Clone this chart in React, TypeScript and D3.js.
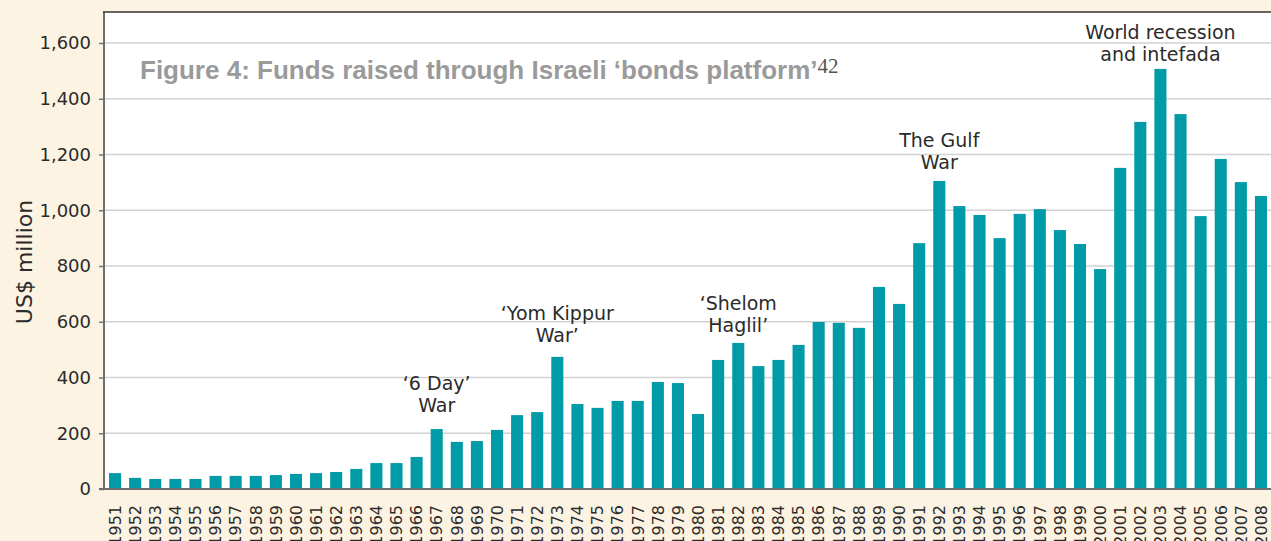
import { useEffect, useRef } from "react";
import * as d3 from "d3";

const years = [
  "1951", "1952", "1953", "1954", "1955", "1956", "1957", "1958", "1959", "1960",
  "1961", "1962", "1963", "1964", "1965", "1966", "1967", "1968", "1969", "1970",
  "1971", "1972", "1973", "1974", "1975", "1976", "1977", "1978", "1979", "1980",
  "1981", "1982", "1983", "1984", "1985", "1986", "1987", "1988", "1989", "1990",
  "1991", "1992", "1993", "1994", "1995", "1996", "1997", "1998", "1999", "2000",
  "2001", "2002", "2003", "2004", "2005", "2006", "2007", "2008",
];

// US$ million
const funds = [
  57, 40, 36, 36, 36, 47, 47, 47, 50, 54,
  57, 61, 72, 93, 93, 115, 215, 169, 172, 212,
  265, 276, 474, 305, 291, 316, 316, 384, 380, 269,
  463, 524, 441, 463, 517, 599, 596, 578, 725, 664,
  882, 1105, 1015, 983, 900, 987, 1004, 929, 879, 789,
  1152, 1317, 1507, 1345, 979, 1184, 1101, 1051,
];

const yTicks = [0, 200, 400, 600, 800, 1000, 1200, 1400, 1600];

// event notes: year they sit over, data level of the last line's baseline
const notes = [
  { year: "1967", level: 276, lines: ["‘6 Day’", "War"] },
  { year: "1973", level: 527, lines: ["‘Yom Kippur", "War’"] },
  { year: "1982", level: 565, lines: ["‘Shelom", "Haglil’"] },
  { year: "1992", level: 1148, lines: ["The Gulf", "War"] },
  { year: "2003", level: 1537, lines: ["World recession", "and intefada"] },
];

const TEAL = "#009ba7";
const SANS = "'DejaVu Sans', sans-serif";

export default function App() {
  const ref = useRef<SVGSVGElement | null>(null);

  useEffect(() => {
    const width = 1271;
    const height = 541;
    const left = 104;
    const top = 12;
    const bottom = 489;
    const svg = d3.select(ref.current);
    svg.selectAll("*").remove();

    const x = d3.scaleBand<string>().domain(years).range([105, 1271]).paddingInner(0.4).paddingOuter(0.2);
    const y = d3.scaleLinear().domain([0, 1600]).range([bottom, 43]);

    svg.append("rect").attr("width", width).attr("height", height).attr("fill", "#fcf3e3");
    svg
      .append("rect")
      .attr("x", left)
      .attr("y", top)
      .attr("width", width - left)
      .attr("height", bottom - top)
      .attr("fill", "#fff");

    // gridlines
    svg
      .selectAll("line.grid")
      .data(yTicks.filter((t) => t > 0))
      .join("line")
      .attr("class", "grid")
      .attr("x1", left)
      .attr("x2", width)
      .attr("y1", (t) => y(t))
      .attr("y2", (t) => y(t))
      .attr("stroke", "#d2d2d2")
      .attr("stroke-width", 1.5);

    // title
    const title = svg
      .append("text")
      .attr("x", 140)
      .attr("y", 79)
      .attr("font-family", "'Liberation Sans', Arial, sans-serif")
      .attr("font-weight", "bold")
      .attr("font-size", 26)
      .attr("fill", "#9a9a9a");
    title.append("tspan").text("Figure 4: Funds raised through Israeli ‘bonds platform’");
    title
      .append("tspan")
      .attr("font-family", "'Liberation Serif', 'Times New Roman', serif")
      .attr("font-weight", "normal")
      .attr("font-size", 21)
      .attr("fill", "#555")
      .attr("dy", -6)
      .text("42");

    // bars
    svg
      .selectAll("rect.bar")
      .data(funds)
      .join("rect")
      .attr("class", "bar")
      .attr("x", (_, i) => x(years[i]) ?? 0)
      .attr("y", (v) => y(v))
      .attr("width", x.bandwidth())
      .attr("height", (v) => bottom - y(v))
      .attr("fill", TEAL);

    // y axis
    const yAxis = svg
      .append("g")
      .attr("transform", `translate(${left},0)`)
      .call(
        d3
          .axisLeft(y)
          .tickValues(yTicks)
          .tickSize(5)
          .tickPadding(8)
          .tickFormat((d) => d3.format(",")(d as number))
      );
    yAxis.select(".domain").remove();
    yAxis.selectAll(".tick line").attr("stroke", "#777").attr("stroke-width", 1.5);
    yAxis
      .selectAll(".tick text")
      .attr("font-family", SANS)
      .attr("font-size", 18)
      .attr("fill", "#2b2b2b");

    svg
      .append("line")
      .attr("x1", left)
      .attr("x2", left)
      .attr("y1", top)
      .attr("y2", bottom)
      .attr("stroke", "#6e6e6e")
      .attr("stroke-width", 2);
    svg
      .append("line")
      .attr("x1", left - 1)
      .attr("x2", width)
      .attr("y1", top)
      .attr("y2", top)
      .attr("stroke", "#3a3330")
      .attr("stroke-width", 1.5);
    svg
      .append("line")
      .attr("x1", left - 5)
      .attr("x2", width)
      .attr("y1", bottom)
      .attr("y2", bottom)
      .attr("stroke", "#6e6e6e")
      .attr("stroke-width", 2);

    // year labels
    svg
      .selectAll("text.year")
      .data(years)
      .join("text")
      .attr("class", "year")
      .attr("transform", (d) => `translate(${(x(d) ?? 0) + x.bandwidth() / 2},505) rotate(-90)`)
      .attr("dy", "0.36em")
      .attr("text-anchor", "end")
      .attr("font-family", SANS)
      .attr("font-size", 16)
      .attr("fill", "#2b2b2b")
      .text((d) => d);

    svg
      .append("text")
      .attr("transform", "translate(32,262) rotate(-90)")
      .attr("text-anchor", "middle")
      .attr("font-family", SANS)
      .attr("font-size", 22)
      .attr("fill", "#2b2b2b")
      .text("US$ million");

    // annotations
    const note = svg
      .selectAll("text.note")
      .data(notes)
      .join("text")
      .attr("class", "note")
      .attr("text-anchor", "middle")
      .attr("font-family", SANS)
      .attr("font-size", 19)
      .attr("fill", "#2b2b2b");
    note
      .selectAll("tspan")
      .data((d) =>
        d.lines.map((line, i) => ({
          line,
          cx: (x(d.year) ?? 0) + x.bandwidth() / 2,
          by: y(d.level) - (d.lines.length - 1 - i) * 22,
        }))
      )
      .join("tspan")
      .attr("x", (d) => d.cx)
      .attr("y", (d) => d.by)
      .text((d) => d.line);
  }, []);

  return (
    <div style={{ position: "absolute", left: 0, top: 0 }}>
      <svg ref={ref} width={1271} height={541} style={{ display: "block" }} />
    </div>
  );
}
